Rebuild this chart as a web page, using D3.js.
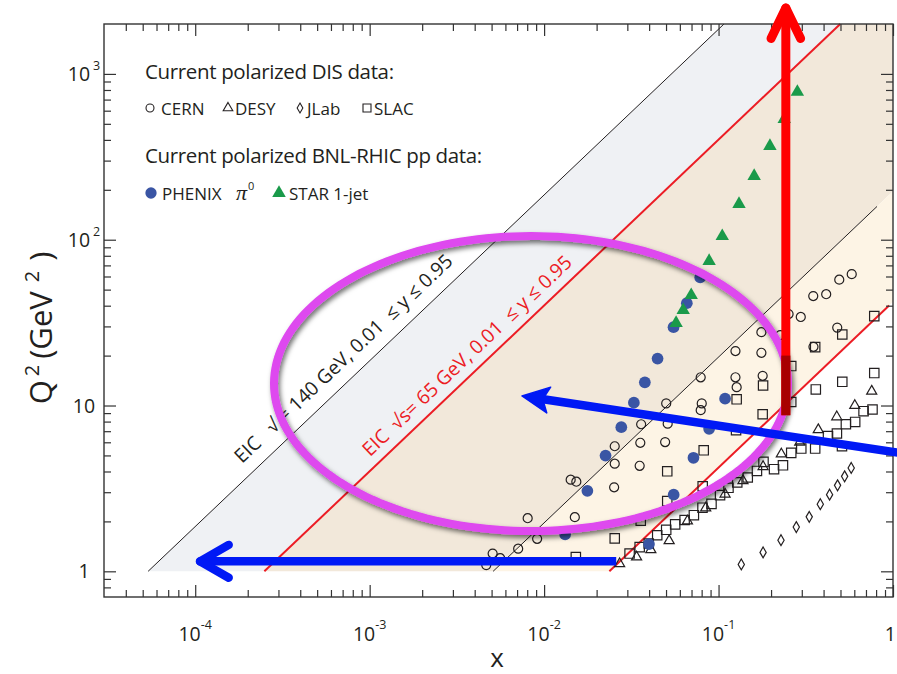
<!DOCTYPE html>
<html>
<head>
<meta charset="utf-8">
<script src="https://cdn.jsdelivr.net/npm/d3@7"></script>
<style>
  body { margin: 0; background: #fff; }
  svg { display: block; font-family: "Open Sans", "Noto Sans", sans-serif; }
  text { fill: #231f20; }
</style>
</head>
<body>
<svg id="chart" width="897" height="674"></svg>
<script>
// ---- polarized DIS data (x, Q^2 in GeV^2) ----
const cernX  = [0.00466,0.00507,0.0056,0.0071,0.00805,0.00912,0.0142,0.0153,0.0150,0.0254,0.0254,0.0252,
                0.0360,0.0356,0.0353,0.0494,0.0501,0.0511,0.0790,0.0801,0.0790,0.125,0.125,0.127,
                0.176,0.176,0.179,0.226,0.252,0.296,0.349,0.414,0.492,0.580,0.479,0.350];
const cernQ2 = [1.09,1.28,1.20,1.37,2.09,1.57,3.57,3.47,2.12,5.68,4.46,3.21,
                7.71,5.96,4.33,6.02,10.3,7.77,14.8,10.3,9.37,21.3,14.8,12.9,
                27.7,20.8,15.1,26.6,35.6,34.2,45.7,46.9,57.4,62.0,29.5,22.6];

const desyX  = [0.0271,0.0339,0.0409,0.0521,0.0663,0.0844,0.109,0.138,0.180,0.229,0.292,0.373,0.476,0.604,0.755];
const desyQ2 = [1.11,1.22,1.35,1.53,2.01,2.41,2.92,3.52,4.28,5.10,6.00,7.15,8.54,10.0,12.2];

const jlabX  = [0.135,0.180,0.228,0.279,0.331,0.383,0.433,0.481,0.528,0.576];
const jlabQ2 = [1.10,1.30,1.54,1.85,2.13,2.54,2.90,3.30,3.74,4.20];

const slacX  = [0.0152,0.0254,0.0358,0.0508,0.0508,0.0811,0.0822,0.126,0.127,0.179,0.180,0.261,0.261,
                0.361,0.358,0.512,0.512,0.781,0.781,
                0.0309,0.0353,0.0398,0.0445,0.0501,0.0564,0.0639,0.0722,0.0809,0.0911,0.102,0.114,
                0.128,0.147,0.166,0.181,0.208,0.234,0.261,0.298,0.358,0.424,0.477,0.510,0.537,0.607,0.678,0.763];
const slacQ2 = [1.22,1.58,2.02,2.65,4.01,3.26,5.37,7.10,10.9,8.86,13.2,10.5,17.3,
                12.5,22.5,13.9,26.8,15.7,34.6,
                1.28,1.40,1.47,1.65,1.78,1.92,2.04,2.18,2.42,2.55,2.88,3.19,
                3.44,3.68,4.03,4.57,4.13,4.36,5.18,5.50,5.50,6.55,6.78,5.68,7.71,7.96,9.24,9.46];

// ---- polarized pp data at RHIC ----
const phenixX  = [0.0132,0.0177,0.0225,0.0277,0.0327,0.0378,0.0447,0.0552,0.0658,0.0785,
                  0.0399,0.0553,0.0718,0.0883,0.109];
const phenixQ2 = [1.67,3.06,4.99,7.40,10.4,13.8,19.2,29.7,41.4,59.2,
                  1.46,2.90,4.84,7.24,11.0];

const starX  = [0.0571,0.0627,0.0697,0.0883,0.105,0.131,0.160,0.197,0.238,0.283];
const starQ2 = [31.4,37.6,46.3,74.3,105,164,242,367,534,778];

// ---- axes ----
const xMajor = [1e-4, 1e-3, 1e-2, 1e-1, 1];
const xMajorLabels = [["10","-4"],["10","-3"],["10","-2"],["10","-1"],["1",""]];
const yMajor = [1, 10, 100, 1000];
const yMajorLabels = [["1",""],["10",""],["10","2"],["10","3"]];

// ---- EIC kinematic reach: Q^2 = s * x * y ----
const sqrtS140 = 140, sqrtS65 = 65;
const yMin = 0.01, yMax = 0.95;

const W = 897;
const svg = d3.select("#chart");
const x = d3.scaleLog().domain([3e-5, 1]).range([104, 893]);
const y = d3.scaleLog().domain([0.7, 2000]).range([597, 24]);
const [x0, x1] = x.domain();
const [q0, q1] = y.domain();

const defs = svg.append("defs");
defs.append("filter").attr("id", "shadow")
    .attr("x", "-10%").attr("y", "-10%").attr("width", "125%").attr("height", "130%")
  .append("feDropShadow")
    .attr("dx", 2).attr("dy", 3).attr("stdDeviation", 2.5)
    .attr("flood-color", "#000").attr("flood-opacity", 0.55);

const s140 = sqrtS140 * sqrtS140, s65 = sqrtS65 * sqrtS65;
const xAt = (s, yy, q2) => q2 / (s * yy);
const qAt = (s, yy, xv) => s * yy * xv;
const path = d3.line().x(d => x(d[0])).y(d => y(d[1]));

// shaded kinematic regions, bounded below by Q^2 = 1
const greyBand = [[xAt(s140, yMax, 1), 1], [xAt(s140, yMax, q1), q1],
                  [xAt(s65, yMax, q1), q1], [xAt(s65, yMax, 1), 1]];
const beigeBand = [[xAt(s65, yMax, 1), 1], [xAt(s65, yMax, q1), q1], [x1, q1],
                   [x1, qAt(s140, yMin, x1)], [xAt(s140, yMin, 1), 1]];
const creamBand = [[xAt(s140, yMin, 1), 1], [x1, qAt(s140, yMin, x1)],
                   [x1, qAt(s65, yMin, x1)], [xAt(s65, yMin, 1), 1]];

const bands = svg.append("g");
bands.append("path").attr("d", path(greyBand) + "Z").attr("fill", "#eff1f4");
bands.append("path").attr("d", path(beigeBand) + "Z").attr("fill", "#f2e8da");
bands.append("path").attr("d", path(creamBand) + "Z").attr("fill", "#fdf4e5");

// boundary lines of the two EIC configurations
const bounds = svg.append("g").attr("fill", "none");
const seg = (s, yy, xa, xb) => [[xa, qAt(s, yy, xa)], [xb, qAt(s, yy, xb)]];
bounds.append("path").attr("d", path(seg(s140, yMax, xAt(s140, yMax, 1), xAt(s140, yMax, q1))))
      .attr("stroke", "#231f20").attr("stroke-width", 1);
bounds.append("path").attr("d", path(seg(s140, yMin, xAt(s140, yMin, 1), 0.81)))
      .attr("stroke", "#231f20").attr("stroke-width", 1);
bounds.append("path").attr("d", path(seg(s65, yMax, xAt(s65, yMax, 1), xAt(s65, yMax, q1))))
      .attr("stroke", "#ec1c24").attr("stroke-width", 2);
bounds.append("path").attr("d", path(seg(s65, yMin, xAt(s65, yMin, 1), 0.95)))
      .attr("stroke", "#ec1c24").attr("stroke-width", 2);

// ---- ticks on all four sides, pointing inward ----
const minorVals = (lo, hi) => {
  const out = [];
  for (let e = -6; e <= 4; e++) for (let m = 2; m <= 9; m++) {
    const v = m * Math.pow(10, e);
    if (v > lo * 1.0001 && v < hi * 0.9999) out.push(v);
  }
  return out;
};
const xMinor = minorVals(x0, x1), yMinor = minorVals(q0, q1);
const tickStyle = g => {
  g.select(".domain").remove();
  g.selectAll("line").attr("stroke", "#333").attr("stroke-width", 1.2);
};
const addAxis = (axis, t, vals, len) =>
  svg.append("g").attr("transform", t)
     .call(axis.tickValues(vals).tickSize(-len).tickSizeOuter(0).tickFormat(""))
     .call(tickStyle);
[[xMajor, 12], [xMinor, 7]].forEach(([v, l]) => {
  addAxis(d3.axisBottom(x), "translate(0,597)", v, l);
  addAxis(d3.axisTop(x), "translate(0,24)", v, l);
});
[[yMajor, 12], [yMinor, 7]].forEach(([v, l]) => {
  addAxis(d3.axisLeft(y), "translate(104,0)", v, l);
  addAxis(d3.axisRight(y), "translate(893,0)", v, l);
});
svg.append("rect").attr("x", 104).attr("y", 24).attr("width", 789).attr("height", 573)
   .attr("fill", "none").attr("stroke", "#333").attr("stroke-width", 1.4);

// tick labels with powers of ten (kept inside the page at the right edge)
const xl = svg.append("g").attr("font-size", 19.5).attr("text-anchor", "middle");
xMajor.forEach((v, i) => {
  const t = xl.append("text").attr("x", x(v)).attr("y", 641);
  t.append("tspan").text(xMajorLabels[i][0]);
  if (xMajorLabels[i][1]) t.append("tspan").attr("font-size", 12.5).attr("dy", -12).text(xMajorLabels[i][1]);
  const bb = t.node().getBBox();
  if (bb.x + bb.width > W - 1) t.attr("x", x(v) - (bb.x + bb.width - (W - 1)));
});
const yl = svg.append("g").attr("font-size", 19.5).attr("text-anchor", "middle");
yMajor.forEach((v, i) => {
  const t = yl.append("text").attr("x", 84).attr("y", y(v) + 7);
  t.append("tspan").text(yMajorLabels[i][0]);
  if (yMajorLabels[i][1]) t.append("tspan").attr("font-size", 12.5).attr("dx", 3).attr("dy", -11).text(yMajorLabels[i][1]);
});

// axis titles
const yt = svg.append("text").attr("transform", "translate(52,328) rotate(-90)")
   .attr("text-anchor", "middle").attr("font-size", 31);
yt.append("tspan").text("Q");
yt.append("tspan").attr("font-size", 20).attr("dx", 4).attr("dy", -13).text("2");
yt.append("tspan").attr("dx", 6).attr("dy", 13).text("(GeV");
yt.append("tspan").attr("font-size", 20).attr("dx", 9).attr("dy", -13).text("2");
yt.append("tspan").attr("dx", 10).attr("dy", 13).text(")");
svg.append("text").attr("x", 497).attr("y", 667).attr("text-anchor", "middle")
   .attr("font-size", 26).text("x");

// ---- data markers ----
const pts = (xs, qs) => xs.map((v, i) => [v, qs[i]]);
const marks = svg.append("g");
const drawSet = (data, type, size, fill, stroke) => {
  marks.append("g").selectAll("path").data(data).join("path")
    .attr("transform", d => `translate(${x(d[0])},${y(d[1])})`)
    .attr("d", d3.symbol(type, size)())
    .attr("fill", fill).attr("stroke", stroke).attr("stroke-width", 1.2);
};
const openC = "#231f20";
drawSet(pts(slacX, slacQ2), d3.symbolSquare, 88, "none", openC);
drawSet(pts(desyX, desyQ2), d3.symbolTriangle, 44, "none", openC);
drawSet(pts(jlabX, jlabQ2), d3.symbolDiamond, 34, "none", openC);
drawSet(pts(cernX, cernQ2), d3.symbolCircle, 64, "none", openC);
drawSet(pts(phenixX, phenixQ2), d3.symbolCircle, 108, "#3a55a4", "none");
drawSet(pts(starX, starQ2), d3.symbolTriangle, 78, "#1a9a4a", "none");

// labels along the y = 0.95 boundaries
const along = (s, xv, off, text, color) => {
  const p0 = [x(xv), y(qAt(s, yMax, xv))];
  const p1 = [x(xv * 10), y(qAt(s, yMax, xv * 10))];
  const a = Math.atan2(p1[1] - p0[1], p1[0] - p0[0]);
  const nx = Math.sin(a) * off, ny = -Math.cos(a) * off;
  svg.append("text")
     .attr("transform", `translate(${p0[0] + nx},${p0[1] + ny}) rotate(${a * 180 / Math.PI})`)
     .attr("font-size", 19.3).style("white-space", "pre").style("fill", color).text(text);
};
along(s140, 2.09e-4, 13, "EIC   \u221A = 140 GeV, 0.01  \u2264 y \u2264 0.95", "#231f20");
along(s65, 1.1e-3, 10, "EIC  \u221As= 65 GeV, 0.01  \u2264 y \u2264 0.95", "#ec1c24");

// ---- legend ----
const lg = svg.append("g");
lg.append("text").attr("x", 145).attr("y", 79).attr("font-size", 20.5).attr("letter-spacing", -0.35)
  .text("Current polarized DIS data:");
lg.append("text").attr("x", 145).attr("y", 163).attr("font-size", 20.5).attr("letter-spacing", -0.35)
  .text("Current polarized BNL-RHIC pp data:");
const legRow1 = [[d3.symbolCircle, 50, 150, "CERN", 161], [d3.symbolTriangle, 40, 228, "DESY", 235],
                 [d3.symbolDiamond, 28, 300, "JLab", 307], [d3.symbolSquare, 64, 367, "SLAC", 374]];
legRow1.forEach(([sym, sz, cx, name, tx]) => {
  lg.append("path").attr("transform", `translate(${cx},108)`).attr("d", d3.symbol(sym, sz)())
    .attr("fill", "none").attr("stroke", openC).attr("stroke-width", 1.1);
  lg.append("text").attr("x", tx).attr("y", 115).attr("font-size", 17).text(name);
});
lg.append("path").attr("transform", "translate(151,193)").attr("d", d3.symbol(d3.symbolCircle, 100)())
  .attr("fill", "#3a55a4");
lg.append("text").attr("x", 162).attr("y", 200).attr("font-size", 17).text("PHENIX");
const pi = lg.append("text").attr("x", 236).attr("y", 200).attr("font-size", 22)
  .attr("font-style", "italic").attr("font-family", "Liberation Serif, serif");
pi.append("tspan").text("\u03C0");
pi.append("tspan").attr("font-size", 11).attr("font-style", "normal")
  .attr("font-family", "Open Sans, sans-serif").attr("dx", 1).attr("dy", -10).text("0");
lg.append("path").attr("transform", "translate(279,193)").attr("d", d3.symbol(d3.symbolTriangle, 80)())
  .attr("fill", "#1a9a4a");
lg.append("text").attr("x", 289).attr("y", 200).attr("font-size", 17).text("STAR 1-jet");

// ---- highlight ellipse (in log-log space) ----
const ell = {cx: 0.008411, cy: 13.57, rxDec: 1.4732, ryDec: 0.8896};
const ellPts = d3.range(0, 361, 2).map(deg => {
  const t = deg * Math.PI / 180;
  return [Math.pow(10, Math.log10(ell.cx) + ell.rxDec * Math.cos(t)),
          Math.pow(10, Math.log10(ell.cy) + ell.ryDec * Math.sin(t))];
});
svg.append("path").attr("d", path(ellPts) + "Z").attr("fill", "none")
   .attr("stroke", "#de48ef").attr("stroke-width", 8).attr("filter", "url(#shadow)");

// ---- arrows ----
const ann = svg.append("g").attr("fill", "none").attr("stroke-linecap", "round");
const chevron = (tip, from, len, ang) => {
  const a = Math.atan2(from[1] - tip[1], from[0] - tip[0]);
  return [a - ang, a + ang].map(b => [tip[0] + len * Math.cos(b), tip[1] + len * Math.sin(b)]);
};
// red: toward higher Q^2 at fixed x
const redX = 0.243, redQlo = 8.74, redQhi = 2500, redDark = 20;
const rTip = [x(redX), y(redQhi)], rBot = [x(redX), y(redQlo)];
ann.append("line").attr("x1", rBot[0]).attr("y1", rBot[1]).attr("x2", rTip[0]).attr("y2", rTip[1] + 3)
   .attr("stroke", "#ff0000").attr("stroke-width", 9).attr("stroke-linecap", "butt");
ann.append("line").attr("x1", rBot[0]).attr("y1", rBot[1]).attr("x2", rTip[0]).attr("y2", y(redDark))
   .attr("stroke", "#a80000").attr("stroke-width", 9).attr("stroke-linecap", "butt");
chevron(rTip, rBot, 34, 0.45).forEach(p =>
  ann.append("line").attr("x1", rTip[0]).attr("y1", rTip[1]).attr("x2", p[0]).attr("y2", p[1])
     .attr("stroke", "#ff0000").attr("stroke-width", 9));

// blue: toward lower x at Q^2 ~ 1
const blueQ = 1.149, blueXhi = 0.0259, blueXlo = 1.066e-4;
const bTip = [x(blueXlo), y(blueQ)], bEnd = [x(blueXhi), y(blueQ)];
ann.append("line").attr("x1", bEnd[0]).attr("y1", bEnd[1]).attr("x2", bTip[0] + 2).attr("y2", bTip[1])
   .attr("stroke", "#0019f5").attr("stroke-width", 8.5).attr("stroke-linecap", "butt");
chevron(bTip, bEnd, 33, 0.52).forEach(p =>
  ann.append("line").attr("x1", bTip[0]).attr("y1", bTip[1]).attr("x2", p[0]).attr("y2", p[1])
     .attr("stroke", "#0019f5").attr("stroke-width", 8.5));

// blue diagonal with a filled head
const dTip = [x(0.00747), y(11.42)], dTail = [x(1.097), y(5.17)];
const dl = Math.hypot(dTail[0] - dTip[0], dTail[1] - dTip[1]);
const ux = (dTail[0] - dTip[0]) / dl, uy = (dTail[1] - dTip[1]) / dl;
const neck = [dTip[0] + ux * 20, dTip[1] + uy * 20];
ann.append("line").attr("x1", neck[0]).attr("y1", neck[1]).attr("x2", dTail[0]).attr("y2", dTail[1])
   .attr("stroke", "#0019f5").attr("stroke-width", 8.5).attr("stroke-linecap", "butt");
const head = [dTip,
  [dTip[0] + ux * 27 - uy * 13, dTip[1] + uy * 27 + ux * 13],
  [dTip[0] + ux * 21, dTip[1] + uy * 21],
  [dTip[0] + ux * 27 + uy * 13, dTip[1] + uy * 27 - ux * 13]];
ann.append("path").attr("d", "M" + head.join("L") + "Z").attr("fill", "#0019f5")
   .attr("stroke", "#0019f5").attr("stroke-width", 1.5).attr("stroke-linejoin", "round");
</script>
</body>
</html>
